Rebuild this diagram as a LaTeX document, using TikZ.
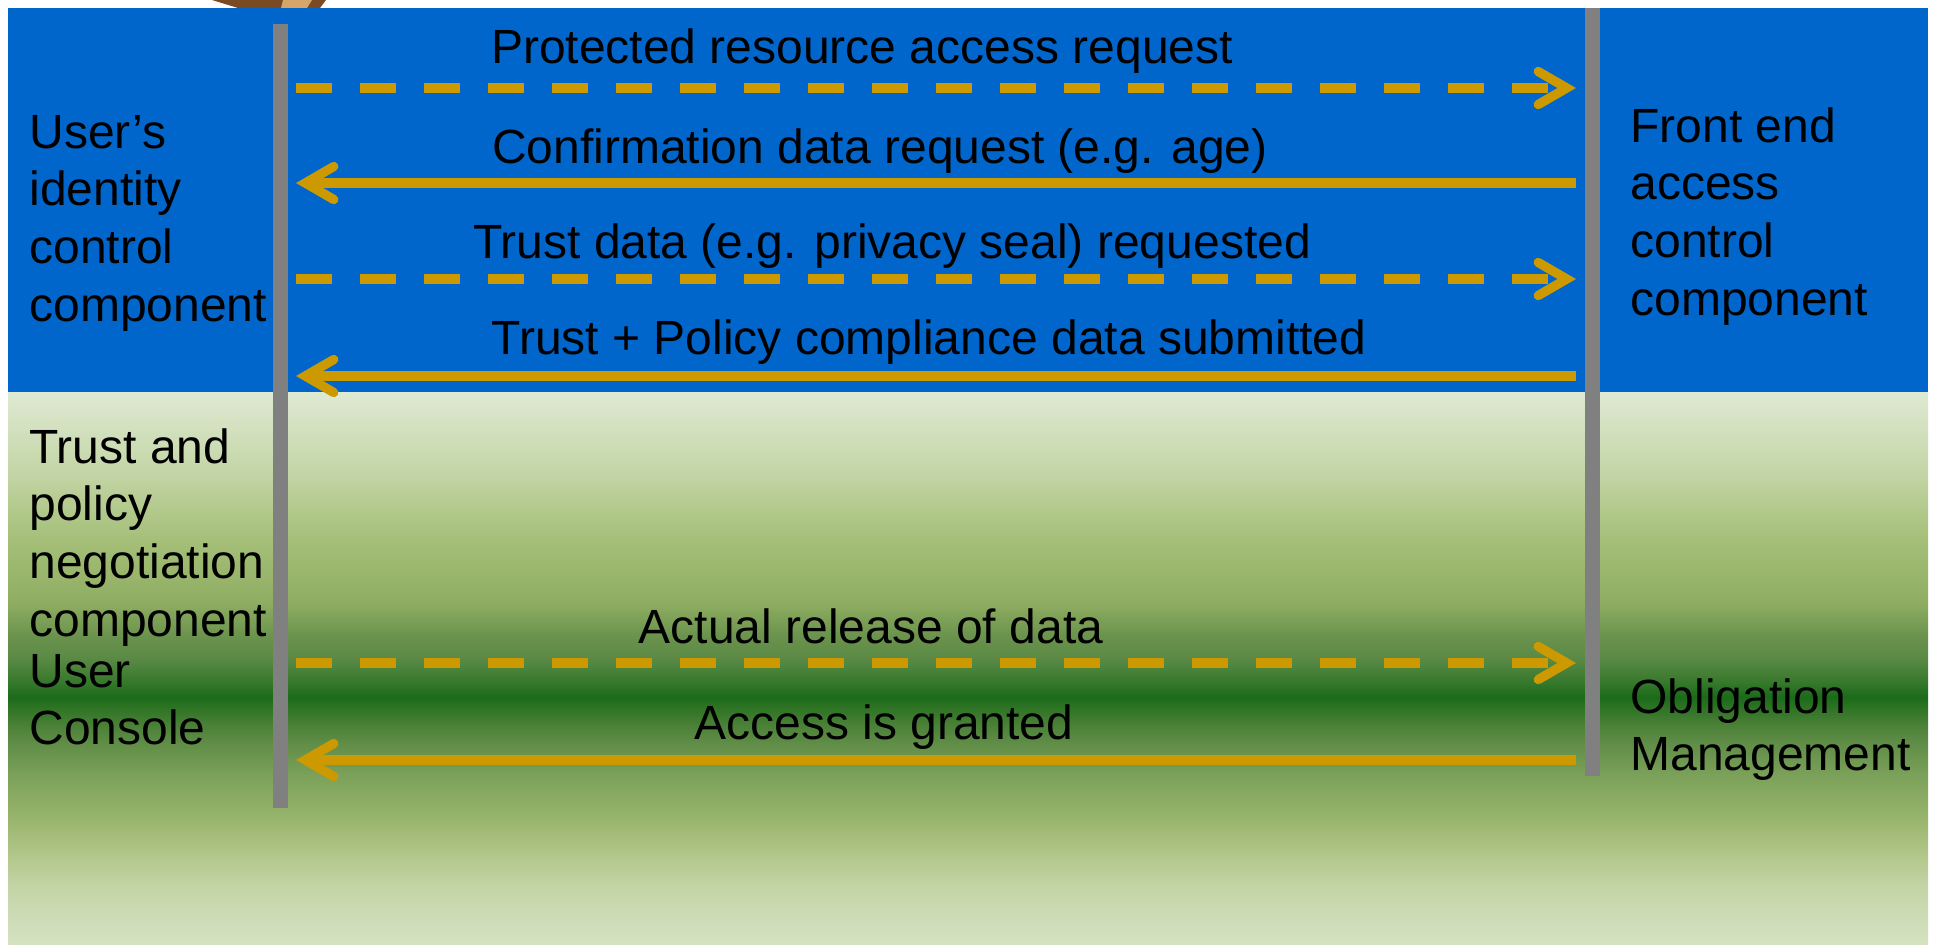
\documentclass[tikz,border=0pt]{standalone}
\usepackage{fontspec}
\setmainfont{Liberation Sans}
\usetikzlibrary{arrows.meta}

\definecolor{bandblue}{HTML}{0066CC}
\definecolor{msgcol}{HTML}{CC9900}
\definecolor{lifegray}{HTML}{808080}
\definecolor{bark}{HTML}{7A4A22}
\definecolor{barklight}{HTML}{D6A56A}
% stops of the meadow gradient, bottom to top
\definecolor{m01}{HTML}{D5E2C3}
\definecolor{m02}{HTML}{C3D4A5}
\definecolor{m03}{HTML}{AEC485}
\definecolor{m04}{HTML}{95B26A}
\definecolor{m05}{HTML}{7FA35C}
\definecolor{m06}{HTML}{608D47}
\definecolor{m07}{HTML}{4C8138}
\definecolor{m08}{HTML}{2F7425}
\definecolor{m09}{HTML}{1B6B1A}
\definecolor{m10}{HTML}{3A7A2E}
\definecolor{m11}{HTML}{5A8A45}
\definecolor{m12}{HTML}{6A924C}
\definecolor{m13}{HTML}{8FAE62}
\definecolor{m14}{HTML}{A5BF78}
\definecolor{m15}{HTML}{C4D6A7}
\definecolor{m16}{HTML}{DFEAD3}

\pgfdeclareverticalshading{meadow}{100bp}{%
  color(0bp)=(m01); color(25bp)=(m01); color(30.34bp)=(m02);
  color(33.61bp)=(m03); color(36.78bp)=(m04); color(39.95bp)=(m05);
  color(43.21bp)=(m06); color(44.75bp)=(m07); color(46.38bp)=(m08);
  color(47.37bp)=(m09); color(48.91bp)=(m10); color(50.91bp)=(m11);
  color(52.81bp)=(m12); color(55.98bp)=(m13); color(61.59bp)=(m14);
  color(67.93bp)=(m15); color(75bp)=(m16); color(100bp)=(m16)}

\newcommand{\labelstack}[1]{\begin{tabular}[t]{@{}l@{}}#1\end{tabular}}

\begin{document}
\begin{tikzpicture}[x=0.5pt, y=-0.5pt,
  lbl/.style={font=\fontsize{24}{28.85}\selectfont, inner sep=0pt, text=black},
  lifeline/.style={draw=lifegray, line width=7.5pt},
  msgline/.style={draw=msgcol, line width=4.65pt,
    -{Straight Barb[length=14.25pt, width=16.5pt, line cap=round, line join=miter]}},
  request/.style={msgline, dash pattern=on 18pt off 14pt},
  reply/.style={msgline}]

\useasboundingbox (0,0) rectangle (1937,944);
\fill[white] (0,0) rectangle (1937,944);

% bit of artwork peeking in at the top edge
\fill[bark] (212,0) -- (326,0) -- (320,8) -- (238,8) -- cycle;
\fill[barklight] (283,0) -- (312,0) -- (307,8) -- (281,8) -- cycle;

% the two bands
\fill[bandblue] (8,8) rectangle (1928,392);
\shade[shading=meadow] (8,392) rectangle (1928,944);

% lifelines
\coordinate (userTop) at (280,24);
\coordinate (userBot) at (280,808);
\coordinate (frontTop) at (1592,8);
\coordinate (frontBot) at (1592,776);
\draw[lifeline] (userTop) -- (userBot);
\draw[lifeline] (frontTop) -- (frontBot);

% message end points
\coordinate (u1) at (296,88);   \coordinate (f1) at (1576,88);
\coordinate (u2) at (296,183);  \coordinate (f2) at (1576,183);
\coordinate (u3) at (296,279);  \coordinate (f3) at (1576,279);
\coordinate (u4) at (296,376);  \coordinate (f4) at (1576,376);
\coordinate (u5) at (296,663);  \coordinate (f5) at (1576,663);
\coordinate (u6) at (296,760);  \coordinate (f6) at (1576,760);

\draw[request] (u1) -- (f1);
\draw[reply]   (f2) -- (u2);
\draw[request] (u3) -- (f3);
\draw[reply]   (f4) -- (u4);
\draw[request] (u5) -- (f5);
\draw[reply]   (f6) -- (u6);

% message labels
\node[lbl, anchor=base] (t1) at (862,63)  {Protected resource access request};
\node[lbl, anchor=base] (t2) at (880,163) {Confirmation data request (e.g. age)};
\node[lbl, anchor=base] (t3) at (892,258) {Trust data (e.g. privacy seal) requested};
\node[lbl, anchor=base] (t4) at (929,354) {Trust + Policy compliance data submitted};
\node[lbl, anchor=base] (t5) at (871,643) {Actual release of data};
\node[lbl, anchor=base] (t6) at (884,739) {Access is granted};

% component labels
\node[lbl, anchor=base west] (idctl) at (29,148)
  {\labelstack{User’s\\identity\\control\\component}};
\node[lbl, anchor=base west] (negot) at (29,463)
  {\labelstack{Trust and\\policy\\negotiation\\component}};
\node[lbl, anchor=base west] (console) at (29,687)
  {\labelstack{User\\Console}};
\node[lbl, anchor=base west] (frontend) at (1630,142)
  {\labelstack{Front end\\access\\control\\component}};
\node[lbl, anchor=base west] (oblig) at (1630,713)
  {\labelstack{Obligation\\Management}};
\end{tikzpicture}
\end{document}
